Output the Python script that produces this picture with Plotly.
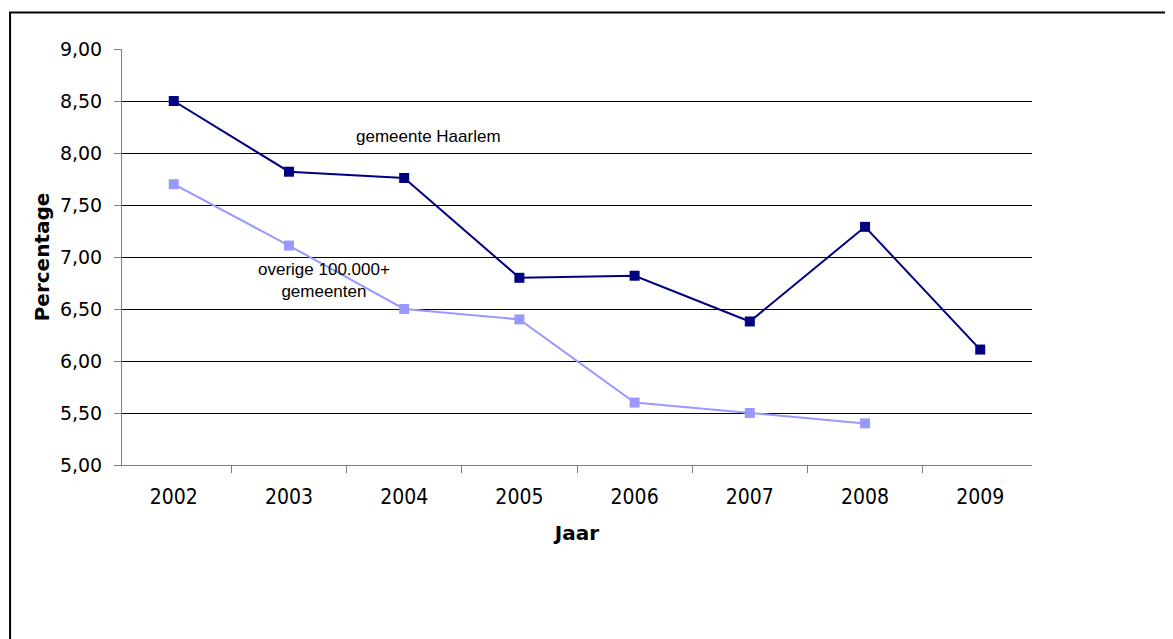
import plotly.graph_objects as go

years = ["2002", "2003", "2004", "2005", "2006", "2007", "2008", "2009"]
haarlem = [8.50, 7.82, 7.76, 6.80, 6.82, 6.38, 7.29, 6.11]
overige = [7.70, 7.11, 6.50, 6.40, 5.60, 5.50, 5.40, None]

fig = go.Figure()

fig.add_trace(go.Scatter(
    x=years, y=overige, mode="lines+markers", name="overige 100.000+ gemeenten",
    line=dict(color="#9999FF", width=2),
    marker=dict(symbol="square", size=10, color="#9999FF"),
    connectgaps=False,
))
fig.add_trace(go.Scatter(
    x=years, y=haarlem, mode="lines+markers", name="gemeente Haarlem",
    line=dict(color="#000080", width=2),
    marker=dict(symbol="square", size=10, color="#000080"),
))

fig.add_annotation(x=0.255, y=8.16, xref="paper", yref="y", text="gemeente Haarlem",
                   showarrow=False, font=dict(family="Liberation Sans", size=17, color="black"))
fig.add_annotation(x=0.147, y=6.77, xref="paper", yref="y",
                   text="overige 100.000+<br>gemeenten",
                   showarrow=False, font=dict(family="Liberation Sans", size=17, color="black"))

# outer chart frame
fig.add_shape(type="rect", xref="paper", yref="paper", x0=-0.123, x1=1.3, y0=-0.6, y1=1.088,
              line=dict(color="#000000", width=2), layer="below")

fig.update_layout(
    width=1173,
    height=639,
    margin=dict(l=114, r=149, t=41, b=182),
    paper_bgcolor="white",
    plot_bgcolor="white",
    showlegend=False,
    separators=",.",
    font=dict(family="DejaVu Sans", size=16, color="black"),
)

fig.update_xaxes(
    type="category",
    tickson="boundaries",
    ticks="outside", ticklen=7, tickcolor="#808080",
    showline=True, linecolor="#808080", linewidth=1,
    showgrid=False,
    ticklabelstandoff=13,
    tickfont=dict(family="DejaVu Sans Condensed", size=21),
    title=dict(text="<b>Jaar</b>", font=dict(family="DejaVu Sans", size=20), standoff=17),
)
fig.update_yaxes(
    range=[5, 9], dtick=0.5, tickformat=".2f",
    ticks="outside", ticklen=7, tickcolor="#808080",
    showline=True, linecolor="#808080", linewidth=1,
    showgrid=True, gridcolor="#000000", gridwidth=1,
    zeroline=False,
    ticklabelstandoff=8,
    tickfont=dict(family="DejaVu Sans", size=19),
    title=dict(text="<b>Percentage</b>", font=dict(family="DejaVu Sans", size=20), standoff=4),
)

fig.write_html("out.html")
